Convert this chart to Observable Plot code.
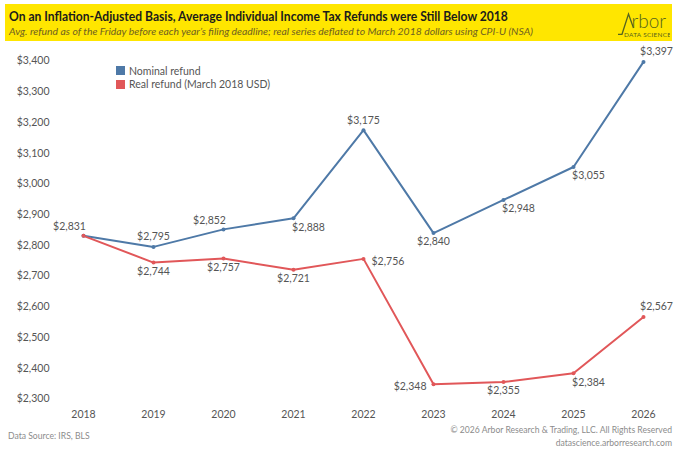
<!DOCTYPE html>
<html>
<head>
<meta charset="utf-8">
<script src="https://cdn.jsdelivr.net/npm/d3@7"></script>
<script src="https://cdn.jsdelivr.net/npm/@observablehq/plot@0.6"></script>
<style>
  html, body { margin: 0; padding: 0; background: #fff; }
  body { width: 680px; height: 453px; position: relative; overflow: hidden; font-family: Lato, "Open Sans", sans-serif; }
  #banner { position: absolute; left: 5px; top: 4px; width: 667px; height: 37px; background: #FFE600; }
  #title { position: absolute; left: 4px; top: 4px; font-weight: 700; font-size: 13px; color: #1b1b1b; white-space: nowrap; transform: scaleX(0.93); transform-origin: 0 0; }
  #subtitle { position: absolute; left: 4px; top: 21px; font-style: italic; font-size: 10.4px; color: #6e6020; white-space: nowrap; }
  #logo { position: absolute; right: 2px; top: 0px; }
  #chart { position: absolute; left: 0; top: 42px; }
  #legend { position: absolute; left: 116px; top: 64px; font-size: 10.5px; color: #555; }
  .li { display: flex; align-items: center; height: 13.5px; }
  .sw { width: 9px; height: 9px; margin-right: 4px; }
  #src { position: absolute; left: 8px; top: 431px; font-size: 8.6px; color: #8c8c8c; }
  #copy { position: absolute; right: 8px; top: 424px; font-size: 8.6px; color: #8c8c8c; text-align: right; line-height: 13px; }
</style>
</head>
<body>
<div id="banner">
  <div id="title">On an Inflation-Adjusted Basis, Average Individual Income Tax Refunds were Still Below 2018</div>
  <div id="subtitle">Avg. refund as of the Friday before each year’s filing deadline; real series deflated to March 2018 dollars using CPI-U (NSA)</div>
  <svg id="logo" width="60" height="37" viewBox="0 0 60 37">
    <path d="M8,30.3 L12,30.3 L18.5,10 L23.5,24" fill="none" stroke="#55641e" stroke-width="1.3"/>
    <text x="21.5" y="24" font-size="19" font-family="Lato" font-weight="300" fill="#55641e">rbor</text>
    <text x="14" y="32.5" font-size="6.4" font-family="Lato" fill="#55641e" letter-spacing="0.3">DATA SCIENCE</text>
  </svg>
</div>
<div id="chart"></div>
<div id="legend"></div>
<div id="src">Data Source: IRS, BLS</div>
<div id="copy">© 2026 Arbor Research &amp; Trading, LLC. All Rights Reserved<br>datascience.arborresearch.com</div>
<script>
// ---- data ----
const years = ["2018","2019","2020","2021","2022","2023","2024","2025","2026"];
const nominalRefund = [2831, 2795, 2852, 2888, 3175, 2840, 2948, 3055, 3397];
const realRefund = [2831, 2744, 2757, 2721, 2756, 2348, 2355, 2384, 2567];
const yTicks = [2300, 2400, 2500, 2600, 2700, 2800, 2900, 3000, 3100, 3200, 3300, 3400];
const seriesNames = ["Nominal refund", "Real refund (March 2018 USD)"];
const seriesColors = ["#4E79A7", "#E15759"];
// label placement per point (null = no label)
const nominalPlace = ["aboveLeft","above","aboveLeft","belowRight","above","below","belowRight","belowRight","aboveRight"];
const realPlace = [null,"below","below","below","right","left","below","belowRight","aboveRight"];

// ---- build table ----
const rows = [];
years.forEach((yr, i) => rows.push({year: yr, value: nominalRefund[i], series: seriesNames[0], place: nominalPlace[i]}));
years.forEach((yr, i) => rows.push({year: yr, value: realRefund[i], series: seriesNames[1], place: realPlace[i]}));

const placements = {
  above:      {dx: 0,   dy: -10, textAnchor: "middle"},
  below:      {dx: 0,   dy: 9,   textAnchor: "middle"},
  aboveLeft:  {dx: -14, dy: -9,  textAnchor: "middle"},
  belowRight: {dx: 15,  dy: 9,   textAnchor: "middle"},
  aboveRight: {dx: 13,  dy: -10, textAnchor: "middle"},
  right:      {dx: 8,   dy: 3,   textAnchor: "start"},
  left:       {dx: -7,  dy: 2,   textAnchor: "end"}
};
const fmt = d3.format("$,");

const labelMarks = Object.entries(placements).map(([k, p]) =>
  Plot.text(rows.filter(d => d.place === k), {
    x: "year", y: "value", text: d => fmt(d.value),
    dx: p.dx, dy: p.dy, textAnchor: p.textAnchor,
    fill: "#555", fontSize: 10.5
  })
);

const chart = Plot.plot({
  width: 680,
  height: 388,
  marginTop: 18.5,
  marginBottom: 31.5,
  marginLeft: 82,
  marginRight: 37,
  style: {fontFamily: "Lato, 'Open Sans', sans-serif", fontSize: "10.5px", color: "#555", background: "transparent", overflow: "visible"},
  x: {type: "point", domain: years, padding: 0, label: null, tickSize: 0, tickPadding: 12},
  y: {domain: [2300, 3400], ticks: yTicks, tickFormat: fmt, label: null, tickSize: 0, tickPadding: 33},
  color: {domain: seriesNames, range: seriesColors},
  marks: [
    Plot.line(rows, {x: "year", y: "value", stroke: "series", strokeWidth: 2}),
    Plot.dot(rows, {x: "year", y: "value", fill: "series", r: 2}),
    ...labelMarks
  ]
});
document.getElementById("chart").appendChild(chart);

const legend = document.getElementById("legend");
seriesNames.forEach((n, i) => {
  const li = document.createElement("div");
  li.className = "li";
  li.innerHTML = `<div class="sw" style="background:${seriesColors[i]}"></div><span>${n}</span>`;
  legend.appendChild(li);
});
</script>
</body>
</html>
